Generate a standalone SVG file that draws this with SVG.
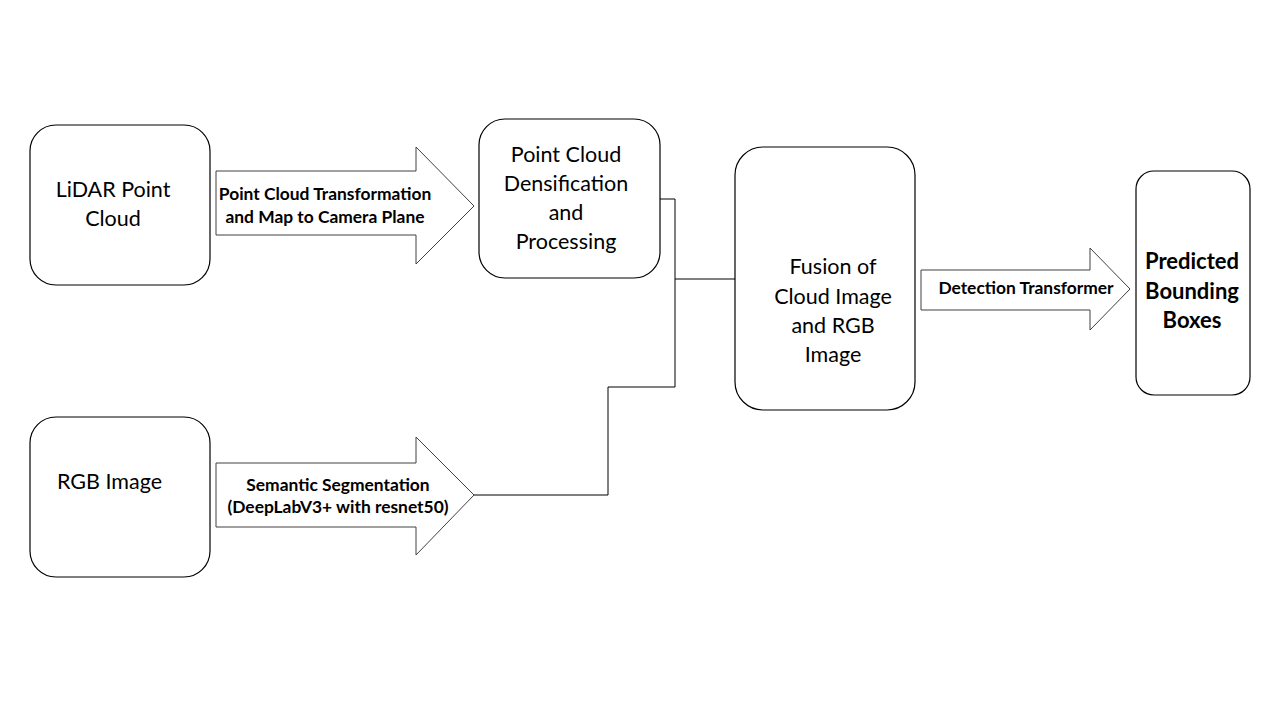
<svg xmlns="http://www.w3.org/2000/svg" width="1280" height="720" viewBox="0 0 1280 720">
<style>
.box{fill:#fff;stroke:#000;stroke-width:1.2}
.arr{fill:#fff;stroke:#404040;stroke-width:1}
.t{font-family:Lato,"Open Sans",sans-serif;font-size:21.5px;fill:#000;text-anchor:middle}
.b{font-family:Lato,"Open Sans",sans-serif;font-size:17.4px;font-weight:bold;fill:#000;text-anchor:middle}
.bb{font-family:Lato,"Open Sans",sans-serif;font-size:22px;font-weight:bold;fill:#000;text-anchor:middle}
.c{fill:none;stroke:#000;stroke-width:1}
</style>
<rect width="1280" height="720" fill="#fff"/>
<g id="connectors">
<polyline class="c" points="660,199 675,199 675,387 608,387 608,495 474,495"/>
<line class="c" x1="675" y1="279" x2="735" y2="279"/>
</g>
<g id="lidar">
<rect class="box" x="30" y="125" width="180" height="160" rx="26"/>
<text class="t" x="113" y="197">LiDAR Point</text>
<text class="t" x="113" y="226">Cloud</text>
</g>
<g id="arrow-transform">
<polygon class="arr" points="216,171 416,171 416,147 474,206 416,264 416,235 216,235"/>
<text class="b" x="325" y="200">Point Cloud Transformation</text>
<text class="b" x="325" y="223">and Map to Camera Plane</text>
</g>
<g id="densify">
<rect class="box" x="479" y="119" width="181" height="159" rx="26"/>
<text class="t" x="566" y="162">Point Cloud</text>
<text class="t" x="566" y="191">Densification</text>
<text class="t" x="566" y="220">and</text>
<text class="t" x="566" y="249">Processing</text>
</g>
<g id="rgb">
<rect class="box" x="30" y="417" width="180" height="160" rx="26"/>
<text class="t" x="57" y="489" style="text-anchor:start">RGB Image</text>
</g>
<g id="arrow-seg">
<polygon class="arr" points="216,463 416,463 416,437 474,495 416,555 416,527 216,527"/>
<text class="b" x="338" y="491">Semantic Segmentation</text>
<text class="b" x="338" y="513">(DeepLabV3+ with resnet50)</text>
</g>
<g id="fusion">
<rect class="box" x="735" y="147" width="180" height="263" rx="28"/>
<text class="t" x="833" y="274">Fusion of</text>
<text class="t" x="833" y="304">Cloud Image</text>
<text class="t" x="833" y="333">and RGB</text>
<text class="t" x="833" y="362">Image</text>
</g>
<g id="arrow-detr">
<polygon class="arr" points="921,270 1090,270 1090,248 1130,289 1090,330 1090,310 921,310"/>
<text class="b" x="1026" y="294">Detection Transformer</text>
</g>
<g id="predicted">
<rect class="box" x="1136" y="171" width="114" height="224" rx="18"/>
<text class="bb" x="1192" y="269">Predicted</text>
<text class="bb" x="1192" y="299">Bounding</text>
<text class="bb" x="1192" y="328">Boxes</text>
</g>
</svg>
